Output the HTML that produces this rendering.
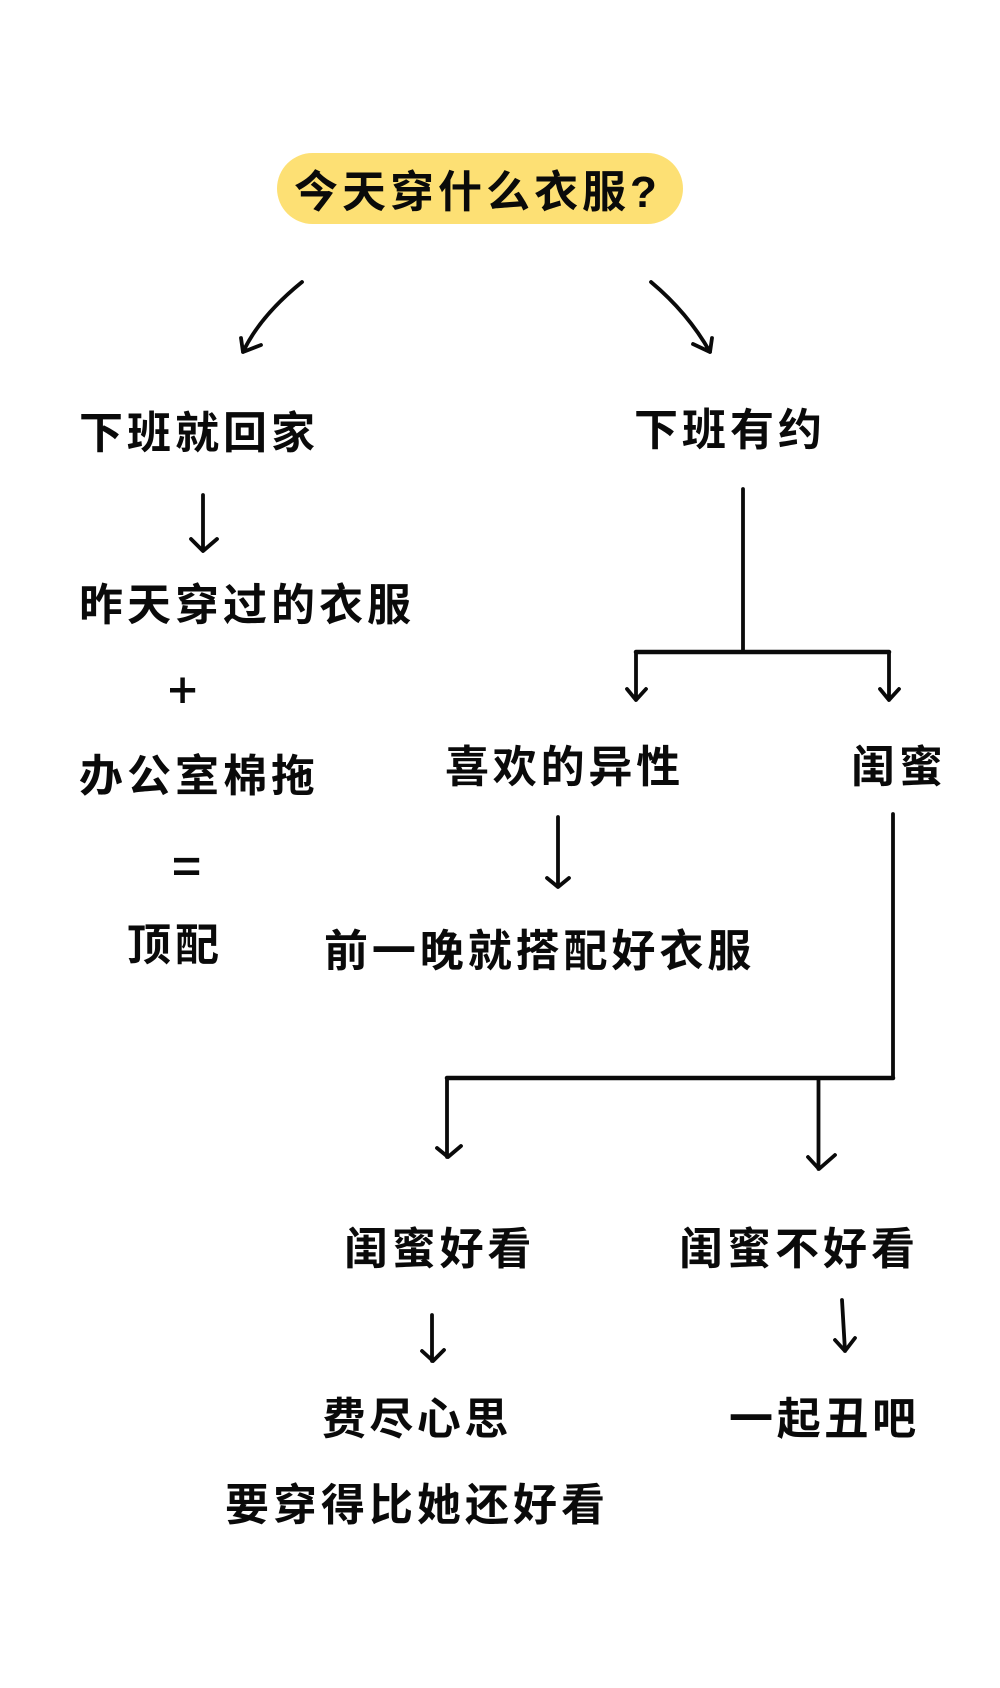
<!DOCTYPE html>
<html lang="zh">
<head>
<meta charset="utf-8">
<style>
html,body{margin:0;padding:0;background:#fff;width:1000px;height:1688px;overflow:hidden}
svg{display:block}
text{font-family:"Liberation Sans","Noto Sans CJK SC","WenQuanYi Zen Hei",sans-serif;font-size:44px;font-weight:700;fill:#0a0a0a;letter-spacing:4px}
.s{font-size:50px;font-weight:400;letter-spacing:0;stroke:#0a0a0a;stroke-width:.9}
.l{fill:none;stroke:#0a0a0a;stroke-width:3.8;stroke-linecap:round;stroke-linejoin:round}
.h{stroke-width:4.5}
</style>
</head>
<body>
<svg width="1000" height="1688" viewBox="0 0 1000 1688" xmlns="http://www.w3.org/2000/svg">
<rect width="1000" height="1688" fill="#fff"/>
<rect x="277" y="153" width="406" height="71" rx="35.5" fill="#fde074"/>
<text x="294" y="207">今天穿什么衣服?</text>

<path class="l" d="M302 282Q260 316 243 352M241 338L243 352L261 345"/>
<path class="l" d="M651 282Q688 313 710 352M693 344L710 352L712 338"/>

<text x="79" y="448">下班就回家</text>
<text x="634" y="445">下班有约</text>

<path class="l" d="M203 495V550M191 539L203 551L217 539"/>
<text x="79" y="620">昨天穿过的衣服</text>
<text x="168" y="707" class="s">+</text>
<text x="79" y="791">办公室棉拖</text>
<text x="172" y="883" class="s">=</text>
<text x="127" y="960">顶配</text>

<path class="l" d="M743 489V652M636 700V652M889 652V700M627 689L636 700L646 689M880 689L889 700L899 689"/>
<path class="l h" d="M636 652H889"/>
<text x="445" y="782" style="letter-spacing:3.8px">喜欢的异性</text>
<text x="851" y="782">闺蜜</text>

<path class="l" d="M558 817V887M547 878L558 887L569 878"/>
<text x="324" y="966" style="letter-spacing:3.9px">前一晚就搭配好衣服</text>

<path class="l" d="M893 814V1078M447 1078V1157M818.5 1078V1169M437 1148L448 1157L461 1146M808 1157L819 1169L835 1155"/>
<path class="l h" d="M447 1078H893"/>
<text x="344" y="1264" style="letter-spacing:3.8px">闺蜜好看</text>
<text x="679" y="1264">闺蜜不好看</text>

<path class="l" d="M432 1315V1361M422 1351L433 1361L444 1350"/>
<path class="l" d="M842 1300L845 1351M835 1340L845 1351L855 1338"/>
<text x="322" y="1434" style="letter-spacing:3.4px">费尽心思</text>
<text x="729" y="1434" style="letter-spacing:3.7px">一起丑吧</text>
<text x="225" y="1520" style="letter-spacing:4px">要穿得比她还好看</text>
</svg>
</body>
</html>
